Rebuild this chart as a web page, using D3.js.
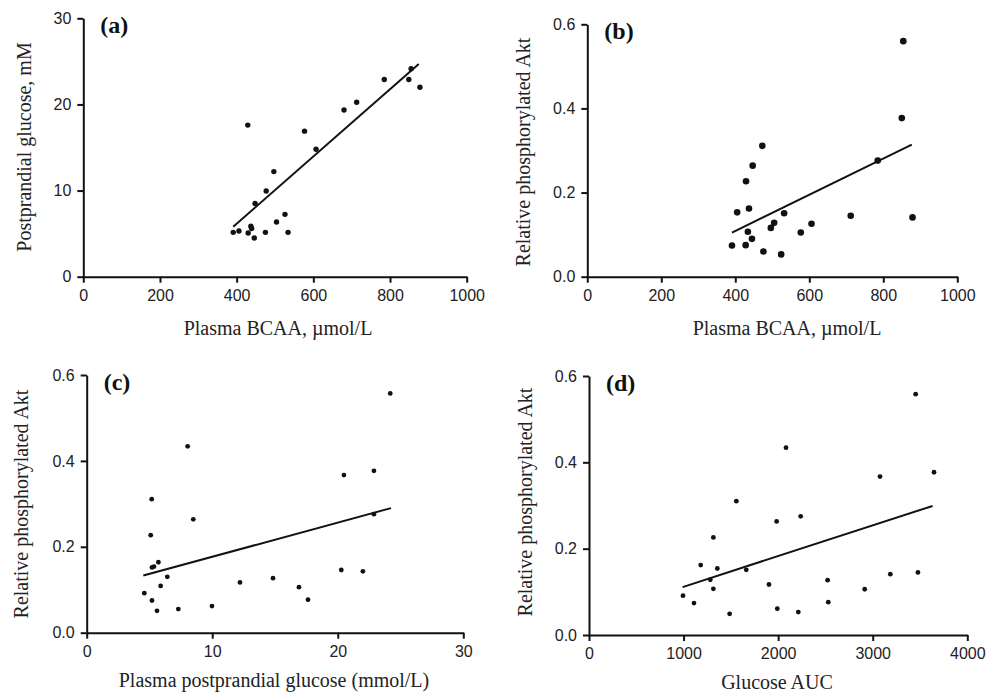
<!DOCTYPE html>
<html>
<head>
<meta charset="utf-8">
<script src="https://cdn.jsdelivr.net/npm/d3@7"></script>
<style>
  body { margin: 0; background: #fff; }
  .tick text { font-family: "Liberation Sans", Arial, sans-serif; font-size: 16px; fill: #222; }
  .aTitle { font-family: "Liberation Serif", "Times New Roman", serif; font-size: 20px; fill: #222; }
  .pLabel { font-family: "Liberation Serif", "Times New Roman", serif; font-size: 24px; font-weight: bold; fill: #111; }
</style>
</head>
<body>
<div id="chart"></div>
<script>
// Panel (a): plasma BCAA vs postprandial glucose
var bcaaA = [391, 406, 429, 430, 437, 439, 446, 448, 475, 477, 497, 504, 526, 534, 577, 607, 680, 713, 785, 849, 855, 878];
var glucoseA = [5.15, 5.3, 17.6, 5.07, 5.85, 5.6, 4.5, 8.5, 5.15, 9.95, 12.2, 6.35, 7.24, 5.15, 16.9, 14.8, 19.35, 20.25, 22.9, 22.9, 24.15, 22.0];
var fitXA = [391, 875], fitYA = [5.8, 24.7];

// Panel (b): plasma BCAA vs relative phosphorylated Akt
var bcaaB = [391, 405, 429, 428, 434, 437, 445, 447, 473, 476, 496, 505, 524, 532, 577, 606, 712, 785, 850, 854, 879];
var aktB = [0.074, 0.153, 0.227, 0.075, 0.107, 0.162, 0.090, 0.264, 0.311, 0.060, 0.116, 0.128, 0.053, 0.151, 0.105, 0.126, 0.145, 0.276, 0.377, 0.560, 0.141];
var fitXB = [391, 877], fitYB = [0.105, 0.314];

// Panel (c): postprandial glucose vs Akt
var glucC = [4.59, 5.10, 5.18, 5.20, 5.20, 5.36, 5.60, 5.71, 5.89, 6.42, 7.30, 8.04, 8.49, 9.98, 12.21, 14.84, 16.91, 17.63, 20.28, 20.49, 22.0, 22.88, 22.88, 24.18];
var aktC = [0.092, 0.227, 0.311, 0.075, 0.152, 0.154, 0.051, 0.164, 0.109, 0.130, 0.055, 0.434, 0.264, 0.062, 0.117, 0.127, 0.106, 0.077, 0.146, 0.367, 0.143, 0.377, 0.276, 0.557];
var fitXC = [4.51, 24.24], fitYC = [0.133, 0.290];

// Panel (d): glucose AUC vs Akt
var aucD = [994, 1110, 1181, 1283, 1315, 1315, 1357, 1487, 1558, 1663, 1903, 1984, 1991, 2083, 2213, 2238, 2523, 2530, 2915, 3077, 3186, 3454, 3478, 3648];
var aktD = [0.091, 0.074, 0.162, 0.128, 0.226, 0.107, 0.154, 0.049, 0.310, 0.151, 0.117, 0.263, 0.061, 0.434, 0.053, 0.275, 0.127, 0.076, 0.106, 0.367, 0.141, 0.558, 0.145, 0.377];
var fitXD = [990, 3633], fitYD = [0.111, 0.299];

// tick values
var ticksBCAA = [0, 200, 400, 600, 800, 1000];
var ticksGlu = [0, 10, 20, 30];
var ticksAUC = [0, 1000, 2000, 3000, 4000];
var ticksAkt = [0, 0.2, 0.4, 0.6];

var svg = d3.select("#chart")
    .append("svg")
    .attr("width", 998)
    .attr("height", 695);

function drawPanel(p) {
    var xScale = d3.scaleLinear().domain(p.xDomain).range([p.left, p.right]);
    var yScale = d3.scaleLinear().domain(p.yDomain).range([p.bottom, p.top]);

    var g = svg.append("g");

    // axes
    var xAxis = d3.axisBottom(xScale).tickValues(p.xTicks).tickSize(6).tickSizeOuter(0).tickPadding(7)
        .tickFormat(d3.format("d"));
    var yAxis = d3.axisLeft(yScale).tickValues(p.yTicks).tickSize(6).tickSizeOuter(0).tickPadding(6)
        .tickFormat(p.yFormat);

    g.append("g")
        .attr("transform", `translate(0, ${p.bottom})`)
        .call(xAxis);
    g.append("g")
        .attr("transform", `translate(${p.left}, 0)`)
        .call(yAxis);

    g.selectAll(".domain, .tick line")
        .attr("stroke", "#111")
        .attr("stroke-width", 2);

    // fit line
    g.append("line")
        .attr("x1", xScale(p.fitX[0]))
        .attr("y1", yScale(p.fitY[0]))
        .attr("x2", xScale(p.fitX[1]))
        .attr("y2", yScale(p.fitY[1]))
        .attr("stroke", "#111")
        .attr("stroke-width", 2);

    // points
    g.selectAll("circle")
        .data(p.xs)
        .enter()
        .append("circle")
        .attr("cx", d => xScale(d))
        .attr("cy", (d, i) => yScale(p.ys[i]))
        .attr("r", p.r)
        .attr("fill", "#111");

    // labels
    g.append("text")
        .attr("class", "pLabel")
        .attr("x", p.left + 17)
        .attr("y", p.top + 15)
        .text(p.label);

    g.append("text")
        .attr("class", "aTitle")
        .attr("text-anchor", "middle")
        .attr("x", p.xTitleX)
        .attr("y", p.xTitleY)
        .text(p.xTitle);

    g.append("text")
        .attr("class", "aTitle")
        .attr("text-anchor", "middle")
        .attr("transform", `translate(${p.yTitleX}, ${p.yTitleY}) rotate(-90)`)
        .text(p.yTitle);
}

var fmt1 = d3.format(".1f");

drawPanel({
    xs: bcaaA, ys: glucoseA, fitX: fitXA, fitY: fitYA,
    xDomain: [0, 1000], yDomain: [0, 30], xTicks: ticksBCAA, yTicks: ticksGlu, yFormat: d3.format("d"),
    left: 83.3, right: 466.7, top: 18.3, bottom: 276.7, r: 2.7, label: "(a)",
    xTitle: "Plasma BCAA, \u00b5mol/L", xTitleX: 278, xTitleY: 335,
    yTitle: "Postprandial glucose, mM", yTitleX: 31, yTitleY: 147
});

drawPanel({
    xs: bcaaB, ys: aktB, fitX: fitXB, fitY: fitYB,
    xDomain: [0, 1000], yDomain: [0, 0.6], xTicks: ticksBCAA, yTicks: ticksAkt, yFormat: fmt1,
    left: 587.3, right: 957.3, top: 24.3, bottom: 276.7, r: 3.3, label: "(b)",
    xTitle: "Plasma BCAA, \u00b5mol/L", xTitleX: 787, xTitleY: 335,
    yTitle: "Relative phosphorylated Akt", yTitleX: 530, yTitleY: 152
});

drawPanel({
    xs: glucC, ys: aktC, fitX: fitXC, fitY: fitYC,
    xDomain: [0, 30], yDomain: [0, 0.6], xTicks: ticksGlu, yTicks: ticksAkt, yFormat: fmt1,
    left: 86.7, right: 463.3, top: 375, bottom: 632.7, r: 2.4, label: "(c)",
    xTitle: "Plasma postprandial glucose (mmol/L)", xTitleX: 274, xTitleY: 687,
    yTitle: "Relative phosphorylated Akt", yTitleX: 28, yTitleY: 504
});

drawPanel({
    xs: aucD, ys: aktD, fitX: fitXD, fitY: fitYD,
    xDomain: [0, 4000], yDomain: [0, 0.6], xTicks: ticksAUC, yTicks: ticksAkt, yFormat: fmt1,
    left: 589, right: 967.3, top: 376, bottom: 635, r: 2.4, label: "(d)",
    xTitle: "Glucose AUC", xTitleX: 777, xTitleY: 689,
    yTitle: "Relative phosphorylated Akt", yTitleX: 531.7, yTitleY: 502
});
</script>
</body>
</html>
